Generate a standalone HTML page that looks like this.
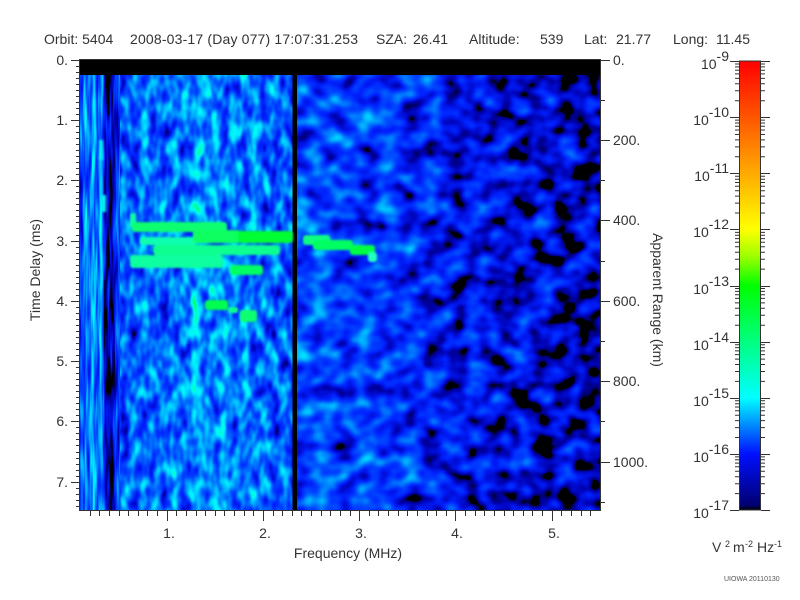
<!DOCTYPE html>
<html><head><meta charset="utf-8"><style>html,body{margin:0;padding:0;background:#fff;overflow:hidden}svg{display:block}</style></head>
<body>
<svg width="800" height="600" viewBox="0 0 800 600" xmlns="http://www.w3.org/2000/svg" font-family="'Liberation Sans', Arial, sans-serif">
<defs>
<linearGradient id="gA" gradientUnits="userSpaceOnUse" x1="80" y1="0" x2="120" y2="0">
<stop offset="0" stop-color="rgb(140,0,0)"/><stop offset=".075" stop-color="rgb(148,0,0)"/><stop offset=".15" stop-color="rgb(173,0,0)"/><stop offset=".2" stop-color="rgb(148,0,0)"/><stop offset=".275" stop-color="rgb(158,0,0)"/><stop offset=".325" stop-color="rgb(184,0,0)"/><stop offset=".375" stop-color="rgb(168,0,0)"/><stop offset=".45" stop-color="rgb(148,0,0)"/><stop offset=".525" stop-color="rgb(184,0,0)"/><stop offset=".575" stop-color="rgb(153,0,0)"/><stop offset=".625" stop-color="rgb(107,0,0)"/><stop offset=".7" stop-color="rgb(92,0,0)"/><stop offset=".775" stop-color="rgb(102,0,0)"/><stop offset=".85" stop-color="rgb(97,0,0)"/><stop offset=".9" stop-color="rgb(133,0,0)"/><stop offset="1" stop-color="rgb(145,0,0)"/>
</linearGradient>
<linearGradient id="gB" gradientUnits="userSpaceOnUse" x1="120" y1="0" x2="295" y2="0">
<stop offset="0" stop-color="rgb(148,0,0)"/><stop offset=".091" stop-color="rgb(153,0,0)"/><stop offset=".4" stop-color="rgb(158,0,0)"/><stop offset=".423" stop-color="rgb(184,0,0)"/><stop offset=".451" stop-color="rgb(184,0,0)"/><stop offset=".474" stop-color="rgb(166,0,0)"/><stop offset=".571" stop-color="rgb(166,0,0)"/><stop offset=".8" stop-color="rgb(156,0,0)"/><stop offset="1" stop-color="rgb(145,0,0)"/>
</linearGradient>
<linearGradient id="gC" gradientUnits="userSpaceOnUse" x1="295" y1="0" x2="600" y2="0">
<stop offset="0" stop-color="rgb(143,0,0)"/><stop offset=".2" stop-color="rgb(138,0,0)"/><stop offset=".35" stop-color="rgb(130,0,0)"/><stop offset=".55" stop-color="rgb(117,0,0)"/><stop offset=".8" stop-color="rgb(107,0,0)"/><stop offset="1" stop-color="rgb(102,0,0)"/>
</linearGradient>
<linearGradient id="gCB" x1="0" y1="0" x2="0" y2="1">
<stop offset="0" stop-color="#ff0000"/><stop offset=".125" stop-color="#ff5500"/><stop offset=".25" stop-color="#ffaa00"/><stop offset=".375" stop-color="#ffff00"/><stop offset=".4375" stop-color="#99ff00"/><stop offset=".5" stop-color="#00ff00"/><stop offset=".625" stop-color="#00ff80"/><stop offset=".75" stop-color="#00ffff"/><stop offset=".875" stop-color="#0010ff"/><stop offset=".99" stop-color="#000070"/><stop offset="1" stop-color="#000000"/>
</linearGradient>
<filter id="fA" filterUnits="userSpaceOnUse" x="80" y="75" width="40" height="435" color-interpolation-filters="sRGB">
<feTurbulence type="fractalNoise" baseFrequency="0.3 0.02" numOctaves="2" seed="11" result="t"/>
<feColorMatrix in="t" type="matrix" values="1 0 0 0 0 1 0 0 0 0 1 0 0 0 0 0 0 0 0 1" result="n"/>
<feComposite in="SourceGraphic" in2="n" operator="arithmetic" k1="0" k2="1" k3="0.6" k4="-0.3" result="s"/>
<feColorMatrix in="s" type="matrix" values="1 0 0 0 0 1 0 0 0 0 1 0 0 0 0 0 0 0 0 1" result="s3"/>
<feComponentTransfer in="s3">
<feFuncR type="linear" slope="0" intercept="0"/>
<feFuncG type="table" tableValues="0 0 0 0 0 0 0 0 0 0 0 0 0 0 0 0 .02 .05 .08 .11 .15 .2 .25 .31 .38 .45 .52 .6 .68 .75 .82 .89 .95 .98 1 1 1 1 1 1 1"/>
<feFuncB type="table" tableValues="0 0 0 0 0 0 0 0 0 0 0 0 0 0 .5 .62 .74 .82 .9 .96 1 1 1 1 1 1 1 1 1 1 1 1 1 .93 .85 .72 .6 .48 .35 .22 .1"/>
</feComponentTransfer>
</filter>
<filter id="fB" filterUnits="userSpaceOnUse" x="120" y="75" width="175" height="435" color-interpolation-filters="sRGB">
<feTurbulence type="fractalNoise" baseFrequency="0.1 0.05" numOctaves="2" seed="5" result="t"/>
<feColorMatrix in="t" type="matrix" values="1 0 0 0 0 1 0 0 0 0 1 0 0 0 0 0 0 0 0 1" result="n"/>
<feComposite in="SourceGraphic" in2="n" operator="arithmetic" k1="0" k2="1" k3="0.7" k4="-0.35" result="s"/>
<feColorMatrix in="s" type="matrix" values="1 0 0 0 0 1 0 0 0 0 1 0 0 0 0 0 0 0 0 1" result="s3"/>
<feComponentTransfer in="s3">
<feFuncR type="linear" slope="0" intercept="0"/>
<feFuncG type="table" tableValues="0 0 0 0 0 0 0 0 0 0 0 0 0 0 0 0 .02 .05 .08 .11 .15 .2 .25 .31 .38 .45 .52 .6 .68 .75 .82 .89 .95 .98 1 1 1 1 1 1 1"/>
<feFuncB type="table" tableValues="0 0 0 0 0 0 0 0 0 0 0 0 0 0 .5 .62 .74 .82 .9 .96 1 1 1 1 1 1 1 1 1 1 1 1 1 .93 .85 .72 .6 .48 .35 .22 .1"/>
</feComponentTransfer>
</filter>
<filter id="fC" filterUnits="userSpaceOnUse" x="295" y="75" width="305" height="435" color-interpolation-filters="sRGB">
<feTurbulence type="fractalNoise" baseFrequency="0.045 0.055" numOctaves="2" seed="2" result="t"/>
<feColorMatrix in="t" type="matrix" values="1 0 0 0 0 1 0 0 0 0 1 0 0 0 0 0 0 0 0 1" result="n"/>
<feComposite in="SourceGraphic" in2="n" operator="arithmetic" k1="0" k2="1" k3="0.65" k4="-0.325" result="s"/>
<feColorMatrix in="s" type="matrix" values="1 0 0 0 0 1 0 0 0 0 1 0 0 0 0 0 0 0 0 1" result="s3"/>
<feComponentTransfer in="s3">
<feFuncR type="linear" slope="0" intercept="0"/>
<feFuncG type="table" tableValues="0 0 0 0 0 0 0 0 0 0 0 0 0 0 0 0 .02 .05 .08 .11 .15 .2 .25 .31 .38 .45 .52 .6 .68 .75 .82 .89 .95 .98 1 1 1 1 1 1 1"/>
<feFuncB type="table" tableValues="0 0 0 0 0 0 0 0 0 0 0 0 0 0 .5 .62 .74 .82 .9 .96 1 1 1 1 1 1 1 1 1 1 1 1 1 .93 .85 .72 .6 .48 .35 .22 .1"/>
</feComponentTransfer>
</filter>
<filter id="fG" x="-20%" y="-50%" width="140%" height="200%">
<feGaussianBlur stdDeviation="1.1"/>
</filter>
<path id="cbm" d="M735 -16.9h4M735 -26.8h4M735 -33.8h4M735 -39.2h4M735 -43.7h4M735 -47.4h4M735 -50.7h4M735 -53.6h4M760 -16.9h5M760 -26.8h5M760 -33.8h5M760 -39.2h5M760 -43.7h5M760 -47.4h5M760 -50.7h5M760 -53.6h5" stroke="#333" stroke-width="1" fill="none"/>
</defs>

<!-- title -->
<g font-size="14" fill="#333">
<text x="44" y="44">Orbit: 5404</text>
<text x="130" y="44" textLength="228" lengthAdjust="spacing">2008-03-17 (Day 077) 17:07:31.253</text>
<text x="376" y="44">SZA:</text>
<text x="413" y="44">26.41</text>
<text x="469" y="44">Altitude:</text>
<text x="540" y="44">539</text>
<text x="584" y="44">Lat:</text>
<text x="616" y="44">21.77</text>
<text x="673" y="44">Long:</text>
<text x="716" y="44">11.45</text>
</g>

<!-- spectrogram -->
<rect x="80" y="75" width="40" height="435" fill="url(#gA)" filter="url(#fA)"/>
<rect x="120" y="75" width="175" height="435" fill="url(#gB)" filter="url(#fB)"/>
<rect x="295" y="75" width="305" height="435" fill="url(#gC)" filter="url(#fC)"/>
<rect x="80" y="60" width="520" height="15" fill="#000"/>
<rect x="292.5" y="75" width="4.5" height="435" fill="#000"/>

<g filter="url(#fG)">
<rect x="99" y="140" width="4" height="20" fill="#00f0f0"/>
<rect x="101" y="195" width="5" height="17" fill="#00f0f0"/>
<rect x="130" y="213" width="6" height="14" rx="2" fill="#10ffa0"/>
<rect x="132" y="222" width="95" height="10" rx="3" fill="#10ff70"/>
<rect x="140" y="237" width="57" height="8" rx="3" fill="#10ffb0"/>
<rect x="153" y="245" width="127" height="10" rx="3" fill="#10ff90"/>
<rect x="130" y="255" width="93" height="13" rx="3" fill="#10ffa0"/>
<rect x="230" y="265" width="33" height="10" rx="3" fill="#00ff60"/>
<rect x="193" y="230" width="47" height="13" rx="3" fill="#10ff60"/>
<rect x="238" y="231" width="55" height="12" rx="3" fill="#00ff30"/>
<rect x="303" y="235" width="27" height="10" rx="3" fill="#10ff80"/>
<rect x="313" y="240" width="40" height="10" rx="3" fill="#00ff60"/>
<rect x="350" y="245" width="25" height="10" rx="3" fill="#00ff40"/>
<rect x="368" y="252" width="9" height="10" rx="3" fill="#20ffc0"/>
<rect x="205" y="300" width="23" height="10" rx="3" fill="#00ff50"/>
<rect x="228" y="307" width="10" height="6" rx="2" fill="#10ff90"/>
<rect x="240" y="310" width="17" height="12" rx="3" fill="#10ff70"/>
</g>

<!-- frame -->
<rect x="79.5" y="59.5" width="521" height="451" fill="none" stroke="#333" stroke-width="1"/>

<!-- left ticks -->
<path stroke="#333" stroke-width="1" fill="none" d="M76 66.5h4M76 72.5h4M76 78.5h4M76 84.5h4M76 90.5h4M76 96.5h4M76 102.5h4M76 108.5h4M76 114.5h4M76 126.5h4M76 132.5h4M76 138.5h4M76 144.5h4M76 150.5h4M76 156.5h4M76 162.5h4M76 168.5h4M76 174.5h4M76 186.5h4M76 192.5h4M76 198.5h4M76 204.5h4M76 210.5h4M76 216.5h4M76 222.5h4M76 228.5h4M76 235.5h4M76 247.5h4M76 253.5h4M76 259.5h4M76 265.5h4M76 271.5h4M76 277.5h4M76 283.5h4M76 289.5h4M76 295.5h4M76 307.5h4M76 313.5h4M76 319.5h4M76 325.5h4M76 331.5h4M76 337.5h4M76 343.5h4M76 349.5h4M76 355.5h4M76 367.5h4M76 373.5h4M76 379.5h4M76 385.5h4M76 391.5h4M76 397.5h4M76 403.5h4M76 409.5h4M76 415.5h4M76 427.5h4M76 433.5h4M76 439.5h4M76 445.5h4M76 452.5h4M76 458.5h4M76 464.5h4M76 470.5h4M76 476.5h4M76 488.5h4M76 494.5h4M76 500.5h4M76 506.5h4M71 60.5h9M71 120.5h9M71 180.5h9M71 241.5h9M71 301.5h9M71 361.5h9M71 421.5h9M71 482.5h9"/>
<g font-size="14" fill="#333" text-anchor="end">
<text x="68" y="65">0.</text><text x="68" y="125">1.</text><text x="68" y="185">2.</text><text x="68" y="246">3.</text><text x="68" y="306">4.</text><text x="68" y="366">5.</text><text x="68" y="426">6.</text><text x="68" y="487">7.</text>
</g>

<!-- bottom ticks -->
<path stroke="#333" stroke-width="1" fill="none" d="M90.5 511v5M99.5 511v5M109.5 511v5M119.5 511v5M128.5 511v5M138.5 511v5M147.5 511v5M157.5 511v5M176.5 511v5M186.5 511v5M196.5 511v5M205.5 511v5M215.5 511v5M224.5 511v5M234.5 511v5M244.5 511v5M253.5 511v5M273.5 511v5M282.5 511v5M292.5 511v5M301.5 511v5M311.5 511v5M321.5 511v5M330.5 511v5M340.5 511v5M350.5 511v5M369.5 511v5M378.5 511v5M388.5 511v5M398.5 511v5M407.5 511v5M417.5 511v5M427.5 511v5M436.5 511v5M446.5 511v5M465.5 511v5M475.5 511v5M484.5 511v5M494.5 511v5M504.5 511v5M513.5 511v5M523.5 511v5M532.5 511v5M542.5 511v5M561.5 511v5M571.5 511v5M581.5 511v5M590.5 511v5M167.5 511v10M263.5 511v10M359.5 511v10M455.5 511v10M552.5 511v10"/>
<g font-size="14" fill="#333" text-anchor="middle">
<text x="169" y="538">1.</text><text x="265" y="538">2.</text><text x="361" y="538">3.</text><text x="457" y="538">4.</text><text x="554" y="538">5.</text>
</g>
<text x="348" y="558" font-size="14" fill="#333" text-anchor="middle">Frequency (MHz)</text>

<!-- right ticks -->
<path stroke="#333" stroke-width="1" fill="none" d="M601 100.5h4M601 180.5h4M601 261.5h4M601 341.5h4M601 421.5h4M601 502.5h4M601 60.5h9M601 140.5h9M601 220.5h9M601 301.5h9M601 381.5h9M601 462.5h9"/>
<g font-size="14" fill="#333">
<text x="613" y="65">0.</text><text x="613" y="145">200.</text><text x="613" y="225">400.</text><text x="613" y="306">600.</text><text x="613" y="386">800.</text><text x="613" y="467">1000.</text>
</g>

<!-- axis titles -->
<text transform="translate(40,270) rotate(-90)" font-size="14" fill="#333" text-anchor="middle">Time Delay (ms)</text>
<text transform="translate(653,300) rotate(90)" font-size="14" fill="#333" text-anchor="middle">Apparent Range (km)</text>

<!-- colorbar -->
<rect x="739.5" y="61" width="21" height="449" fill="url(#gCB)" stroke="#333" stroke-width="1"/>
<path stroke="#333" stroke-width="1" fill="none" d="M730 61.5h9M730 117.5h9M730 173.5h9M730 229.5h9M730 286.5h9M730 342.5h9M730 398.5h9M730 454.5h9M730 510.5h9M761 61.5h9M761 117.5h9M761 173.5h9M761 229.5h9M761 286.5h9M761 342.5h9M761 398.5h9M761 454.5h9M761 510.5h9"/>
<use href="#cbm" transform="translate(0,117.6)"/>
<use href="#cbm" transform="translate(0,173.7)"/>
<use href="#cbm" transform="translate(0,229.9)"/>
<use href="#cbm" transform="translate(0,286)"/>
<use href="#cbm" transform="translate(0,342.1)"/>
<use href="#cbm" transform="translate(0,398.3)"/>
<use href="#cbm" transform="translate(0,454.4)"/>
<use href="#cbm" transform="translate(0,510.5)"/>
<g font-size="14" fill="#333" text-anchor="end">
<text x="729" y="69">10<tspan dy="-8">-9</tspan></text>
<text x="729" y="125">10<tspan dy="-8">-10</tspan></text>
<text x="729" y="181">10<tspan dy="-8">-11</tspan></text>
<text x="729" y="237">10<tspan dy="-8">-12</tspan></text>
<text x="729" y="294">10<tspan dy="-8">-13</tspan></text>
<text x="729" y="350">10<tspan dy="-8">-14</tspan></text>
<text x="729" y="406">10<tspan dy="-8">-15</tspan></text>
<text x="729" y="462">10<tspan dy="-8">-16</tspan></text>
<text x="729" y="518">10<tspan dy="-8">-17</tspan></text>
</g>
<g fill="#333">
<text x="712" y="552" font-size="14">V</text>
<text x="725" y="547" font-size="9">2</text>
<text x="733" y="552" font-size="14">m</text>
<text x="745" y="547" font-size="9">-2</text>
<text x="757" y="552" font-size="14">Hz</text>
<text x="774" y="547" font-size="9">-1</text>
</g>
<text x="724" y="581" font-size="7" fill="#555">UIOWA 20110130</text>
</svg>
</body></html>
